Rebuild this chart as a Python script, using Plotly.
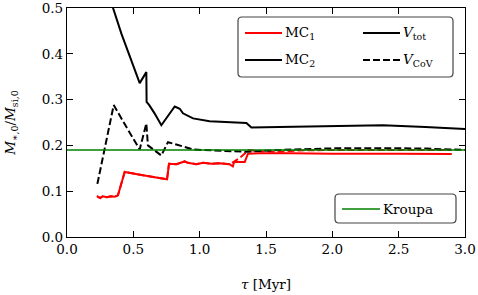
import plotly.graph_objects as go

# ---------------- data ----------------
tau_mc2_tot = [0.25, 0.30, 0.347, 0.41, 0.472, 0.548, 0.598, 0.600, 0.62, 0.66, 0.711,
               0.812, 0.85, 0.874, 0.95, 1.075, 1.352, 1.39, 1.6, 2.0, 2.38, 2.7, 3.0]
val_mc2_tot = [0.62, 0.56, 0.500, 0.444, 0.397, 0.336, 0.360, 0.295, 0.288, 0.270, 0.244,
               0.285, 0.280, 0.270, 0.259, 0.253, 0.249, 0.239, 0.240, 0.242, 0.244, 0.240, 0.236]

tau_mc2_cov = [0.229, 0.352, 0.448, 0.535, 0.548, 0.598, 0.61, 0.711, 0.761, 0.824,
               0.95, 1.1, 1.35, 1.6, 2.05, 2.4, 2.71, 3.0]
val_mc2_cov = [0.116, 0.288, 0.240, 0.197, 0.191, 0.248, 0.200, 0.178, 0.207, 0.202,
               0.191, 0.189, 0.186, 0.190, 0.194, 0.194, 0.193, 0.190]

tau_mc1_tot = [0.226, 0.25, 0.27, 0.30, 0.33, 0.36, 0.384, 0.435, 0.55, 0.65, 0.754, 0.769,
               0.824, 0.887, 0.91, 0.975, 1.025, 1.088, 1.15, 1.226, 1.25, 1.26, 1.34, 1.364,
               1.45, 1.7, 2.0, 2.5, 2.9]
val_mc1_tot = [0.089, 0.085, 0.089, 0.087, 0.089, 0.088, 0.091, 0.142, 0.136, 0.131, 0.126, 0.160,
               0.159, 0.165, 0.162, 0.159, 0.162, 0.160, 0.161, 0.159, 0.154, 0.164, 0.164, 0.182,
               0.183, 0.183, 0.182, 0.182, 0.181]

tau_mc1_cov = [0.226, 0.25, 0.27, 0.30, 0.33, 0.36, 0.384, 0.435, 0.55, 0.65, 0.754, 0.769,
               0.824, 0.887, 0.91, 0.975, 1.025, 1.088, 1.15, 1.226, 1.30, 1.37, 1.45, 1.6,
               1.75, 2.0, 2.5, 2.9]
val_mc1_cov = [0.089, 0.085, 0.089, 0.087, 0.089, 0.088, 0.091, 0.142, 0.136, 0.131, 0.126, 0.160,
               0.159, 0.165, 0.162, 0.159, 0.162, 0.160, 0.161, 0.159, 0.172, 0.190, 0.187, 0.186,
               0.189, 0.190, 0.190, 0.190]

kroupa_tau = [0.0, 3.0]
kroupa_val = [0.19, 0.19]

x_ticks = [0.0, 0.5, 1.0, 1.5, 2.0, 2.5, 3.0]
y_ticks = [0.0, 0.1, 0.2, 0.3, 0.4, 0.5]

# ---------------- figure ----------------
FONT = "DejaVu Serif"
FS = 13.5
RED = "#ff0000"
BLACK = "#000000"
GREEN = "#008000"

fig = go.Figure()
fig.add_trace(go.Scatter(x=tau_mc1_cov, y=val_mc1_cov, mode="lines",
                         line=dict(color=RED, width=2, dash="7px,3px"), showlegend=False))
fig.add_trace(go.Scatter(x=tau_mc1_tot, y=val_mc1_tot, mode="lines",
                         line=dict(color=RED, width=2), showlegend=False))
fig.add_trace(go.Scatter(x=tau_mc2_cov, y=val_mc2_cov, mode="lines",
                         line=dict(color=BLACK, width=2, dash="7px,3px"), showlegend=False))
fig.add_trace(go.Scatter(x=tau_mc2_tot, y=val_mc2_tot, mode="lines",
                         line=dict(color=BLACK, width=2), showlegend=False))
fig.add_trace(go.Scatter(x=kroupa_tau, y=kroupa_val, mode="lines",
                         line=dict(color=GREEN, width=1.6), showlegend=False))

W, H = 478, 295
ML, MR, MT, MB = 67, 13, 8, 58
PW, PH = W - ML - MR, H - MT - MB


def px(xp):
    return (xp - ML) / PW


def py(yp):
    return (H - MB - yp) / PH


def rounded_box(x0, y0, x1, y1, r=4):
    # pixel coords -> paper path with rounded corners
    rx, ry = r / PW, r / PH
    X0, X1 = px(x0), px(x1)
    Y0, Y1 = py(y1), py(y0)  # Y0 bottom, Y1 top
    return (f"M {X0+rx},{Y0} L {X1-rx},{Y0} Q {X1},{Y0} {X1},{Y0+ry} "
            f"L {X1},{Y1-ry} Q {X1},{Y1} {X1-rx},{Y1} L {X0+rx},{Y1} "
            f"Q {X0},{Y1} {X0},{Y1-ry} L {X0},{Y0+ry} Q {X0},{Y0} {X0+rx},{Y0} Z")


shapes = []
annotations = []
# upper legend
shapes.append(dict(type="path", xref="paper", yref="paper", layer="above",
                   path=rounded_box(238, 17, 453, 77),
                   line=dict(color="#444444", width=1.2), fillcolor="rgba(255,255,255,0.85)"))
legend_items = [
    (245, 282, 33, RED, "solid", "MC<sub>1</sub>"),
    (245, 282, 60, BLACK, "solid", "MC<sub>2</sub>"),
    (363, 400, 33, BLACK, "solid", "<i>V</i><sub>tot</sub>"),
    (363, 400, 60, BLACK, "7px,3px", "<i>V</i><sub>CoV</sub>"),
]
for x0, x1, yy, col, dash, txt in legend_items:
    shapes.append(dict(type="line", xref="paper", yref="paper", layer="above",
                       x0=px(x0), x1=px(x1), y0=py(yy), y1=py(yy),
                       line=dict(color=col, width=2, dash=dash)))
    annotations.append(dict(x=px(x1 + 1), y=py(yy), xref="paper", yref="paper",
                            xanchor="left", yanchor="middle", showarrow=False,
                            text=txt, font=dict(family=FONT, size=FS, color="black")))
# lower legend
shapes.append(dict(type="path", xref="paper", yref="paper", layer="above",
                   path=rounded_box(335, 194, 456, 223),
                   line=dict(color="#444444", width=1.2), fillcolor="rgba(255,255,255,0.85)"))
shapes.append(dict(type="line", xref="paper", yref="paper", layer="above",
                   x0=px(342), x1=px(380), y0=py(209), y1=py(209),
                   line=dict(color=GREEN, width=1.6)))
annotations.append(dict(x=px(381), y=py(209), xref="paper", yref="paper",
                        xanchor="left", yanchor="middle", showarrow=False,
                        text="Kroupa", font=dict(family=FONT, size=FS, color="black")))

axis_common = dict(showline=True, linecolor="black", linewidth=1.2, mirror="ticks",
                   ticks="inside", ticklen=6, tickwidth=1.1, tickcolor="black",
                   showgrid=False, zeroline=False, automargin=False,
                   ticklabeloverflow="allow",
                   tickfont=dict(family=FONT, size=FS, color="black"))

fig.update_layout(
    width=W, height=H,
    margin=dict(l=ML, r=MR, t=MT, b=MB),
    paper_bgcolor="white", plot_bgcolor="white",
    shapes=shapes, annotations=annotations,
    xaxis=dict(range=[0, 3], tickvals=x_ticks, ticktext=[f"{v:.1f}" for v in x_ticks],
               title=dict(text="<i>τ</i> [Myr]", font=dict(family=FONT, size=FS, color="black"),
                          standoff=23),
               **axis_common),
    yaxis=dict(range=[0, 0.5], tickvals=y_ticks, ticktext=[f"{v:.1f}" for v in y_ticks],
               title=dict(text="<i>M</i><sub>∗,0</sub>/<i>M</i><sub>si,0</sub>",
                          font=dict(family=FONT, size=FS, color="black"), standoff=22),
               **axis_common),
    showlegend=False,
)

fig.write_html("out.html", config={"displayModeBar": False},
               post_script="document.body.style.margin='0';document.body.style.padding='0';")
